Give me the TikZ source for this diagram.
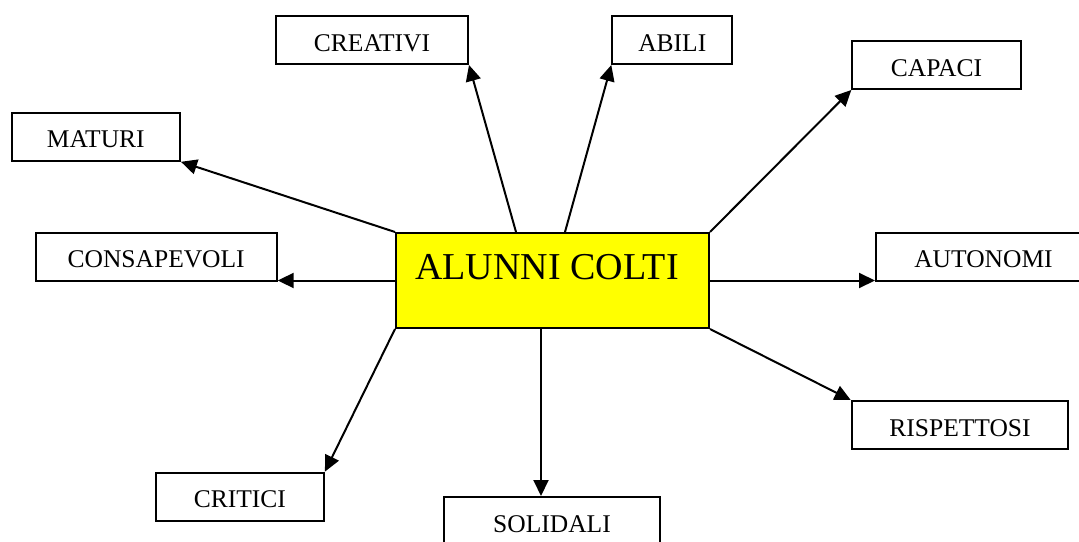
\documentclass[tikz,border=0pt]{standalone}
\usepackage{fontspec}
\setmainfont{Liberation Serif}
\usetikzlibrary{arrows.meta}
\definecolor{hubyellow}{RGB}{255,255,0}
\tikzset{
  box/.style={draw=black, line width=2pt, fill=white, minimum height=48pt,
              inner sep=0pt, text height=22pt, text depth=0pt,
              font=\fontsize{25.5}{28}\selectfont},
  hub/.style={draw=black, line width=2pt, fill=hubyellow, minimum width=313pt,
              minimum height=95pt, inner sep=0pt, text height=26pt, text depth=28.4pt,
              font=\fontsize{38}{42}\selectfont},
  link/.style={line width=2pt, -{Triangle[length=16pt,width=15pt]}}
}
\begin{document}
\begin{tikzpicture}[x=1pt, y=-1pt]
\useasboundingbox (0,0) rectangle (1079,541);
\clip (0,0) rectangle (1079,541);

% central concept
\node[hub] (c) at (552.5,280.5) {ALUNNI COLTI\hspace*{11pt}};

% surrounding qualities
\node[box, minimum width=192pt] (creativi) at (372,40) {CREATIVI};
\node[box, minimum width=120pt] (abili) at (672.3,40) {ABILI};
\node[box, minimum width=168.4pt] (capaci) at (936.5,65) {CAPACI};
\node[box, minimum width=168.3pt] (maturi) at (95.8,136.8) {MATURI};
\node[box, minimum width=241pt] (consapevoli) at (156.2,256.8) {CONSAPEVOLI};
\node[box, minimum width=215pt] (autonomi) at (983.5,256.8) {AUTONOMI};
\node[box, minimum width=216.6pt] (rispettosi) at (960,425) {RISPETTOSI};
\node[box, minimum width=168.3pt] (critici) at (239.8,496.6) {CRITICI};
\node[box, minimum width=216pt] (solidali) at (552,521) {SOLIDALI};

% arrows from the centre
\draw[link] (c.north west) -- (maturi.south east);
\draw[link] ([xshift=-36.5pt]c.north) -- (creativi.south east);
\draw[link] ([xshift=12.5pt]c.north) -- (abili.south west);
\draw[link] (c.north east) -- (capaci.south west);
\draw[link] (c.west) -- (consapevoli.south east |- c.west);
\draw[link] (c.east) -- (autonomi.south west |- c.east);
\draw[link] (c.south east) -- (rispettosi.north west);
\draw[link] (c.south west) -- (critici.north east);
\draw[link] ([xshift=-11.5pt]c.south) -- ([xshift=-11.5pt]c.south |- solidali.north);
\end{tikzpicture}
\end{document}
